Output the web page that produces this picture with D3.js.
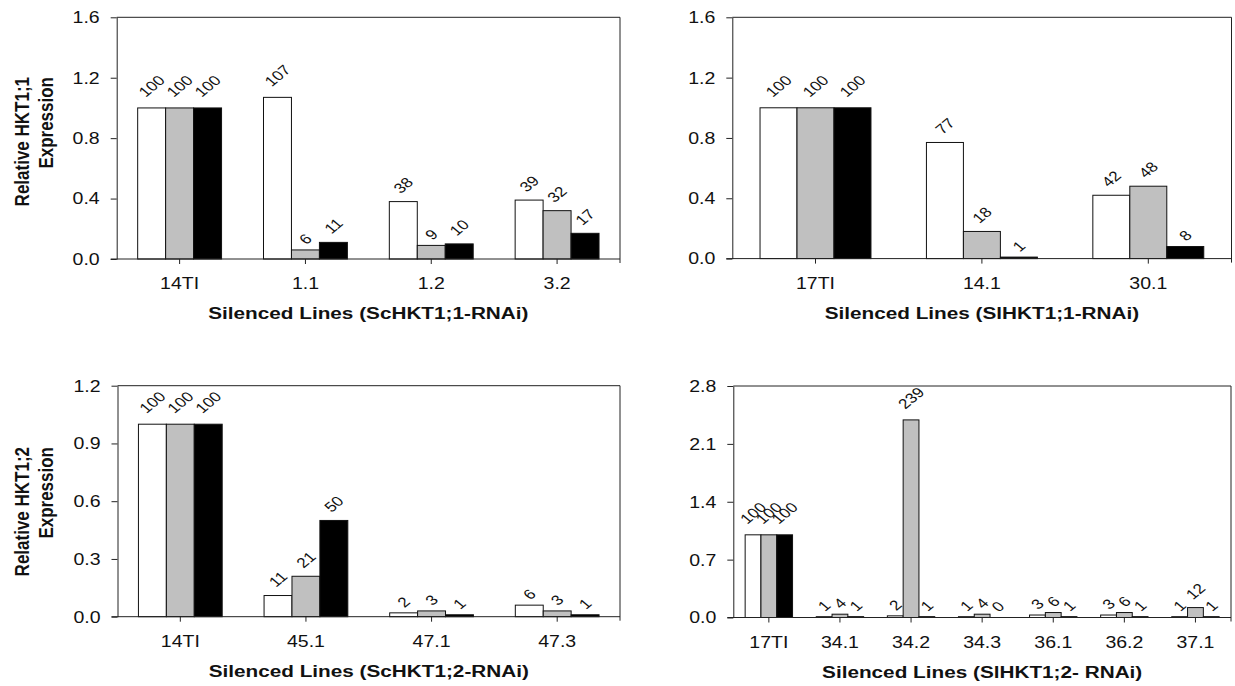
<!DOCTYPE html>
<html><head><meta charset="utf-8">
<script src="https://cdn.jsdelivr.net/npm/d3@7"></script>
<style>
html,body{margin:0;padding:0;background:#fff;}
svg{display:block;font-family:"Liberation Sans",Arial,sans-serif;}
</style></head>
<body><svg id="chart" width="1235" height="686"></svg>
<script>
// ---------- data (percent of control) ----------
const catsA = ["14TI","1.1","1.2","3.2"];
const whiteA = [100,107,38,39];
const grayA  = [100,6,9,32];
const blackA = [100,11,10,17];

const catsB = ["17TI","14.1","30.1"];
const whiteB = [100,77,42];
const grayB  = [100,18,48];
const blackB = [100,1,8];

const catsC = ["14TI","45.1","47.1","47.3"];
const whiteC = [100,11,2,6];
const grayC  = [100,21,3,3];
const blackC = [100,50,1,1];

const catsD = ["17TI","34.1","34.2","34.3","36.1","36.2","37.1"];
const whiteD = [100,1,2,1,3,3,1];
const grayD  = [100,4,239,4,6,6,12];
const blackD = [100,1,1,0,1,1,1];

const yTicksA = [0,0.4,0.8,1.2,1.6];
const yTicksC = [0,0.3,0.6,0.9,1.2];
const yTicksD = [0,0.7,1.4,2.1,2.8];

const xTitles = ["Silenced Lines (ScHKT1;1-RNAi)","Silenced Lines (SlHKT1;1-RNAi)",
                 "Silenced Lines (ScHKT1;2-RNAi)","Silenced Lines (SlHKT1;2- RNAi)"];
const yTitleTop = ["Relative HKT1;1","Expression"];
const yTitleBot = ["Relative HKT1;2","Expression"];

// ---------- layout ----------
const SX = 1.22;          // horizontal stretch of the original picture
const fills = ["#ffffff","#c0c0c0","#000000"];
const svg = d3.select("#chart");

const panels = [
  {cats:catsA, series:[whiteA,grayA,blackA], ticks:yTicksA, x0:116.7, x1:620, y0:17.3, y1:259, title:xTitles[0], ytitle:yTitleTop, ytop:77},
  {cats:catsB, series:[whiteB,grayB,blackB], ticks:yTicksA, x0:732.3, x1:1231.5, y0:17.3, y1:258.6, title:xTitles[1]},
  {cats:catsC, series:[whiteC,grayC,blackC], ticks:yTicksC, x0:117.5, x1:620, y0:385.7, y1:616.7, title:xTitles[2], ytitle:yTitleBot, ytop:447},
  {cats:catsD, series:[whiteD,grayD,blackD], ticks:yTicksD, x0:733.3, x1:1231, y0:386, y1:617.5, title:xTitles[3]}
];

panels.forEach(p => {
  const g = svg.append("g");
  const x = d3.scaleBand().domain(p.cats).range([p.x0,p.x1]).paddingInner(1/3).paddingOuter(1/6);
  const xs = d3.scaleBand().domain([0,1,2]).range([0,x.bandwidth()]).padding(0);
  const ymax = p.ticks[p.ticks.length-1];
  const y = d3.scaleLinear().domain([0,ymax]).range([p.y1,p.y0]);

  // frame (top + right)
  g.append("path").attr("d",`M${p.x0},${p.y0}H${p.x1}V${p.y1+4}`)
    .attr("fill","none").attr("stroke","#222").attr("stroke-width",1);

  // bars
  p.series.forEach((vals,si) => {
    g.append("g").selectAll("rect").data(p.cats.map((c,i)=>({c,v:vals[i]/100}))).join("rect")
      .attr("x",d=>x(d.c)+xs(si)).attr("width",xs.bandwidth())
      .attr("y",d=>y(d.v)).attr("height",d=>p.y1-y(d.v))
      .attr("fill",fills[si]).attr("stroke","#111").attr("stroke-width",1);
  });

  // value labels
  p.series.forEach((vals,si) => {
    g.append("g").selectAll("text").data(p.cats.map((c,i)=>({c,v:vals[i]}))).join("text")
      .attr("transform",d=>{
        const cx = x(d.c)+xs(si)+xs.bandwidth()/2;
        const L = String(d.v).length*0.556*14;
        const cy = y(d.v/100) - 5.5 - 0.7*L;
        return `translate(${cx},${cy}) scale(${SX},1) rotate(-45)`;
      })
      .attr("text-anchor","middle").attr("dominant-baseline","central")
      .attr("font-size",14).attr("fill","#111").text(d=>d.v);
  });

  // y axis
  const ya = g.append("g").attr("transform",`translate(${p.x0},0)`)
    .call(d3.axisLeft(y).tickValues(p.ticks).tickFormat(d3.format(".1f")).tickSize(6).tickSizeOuter(0).tickPadding(0));
  ya.select(".domain").attr("stroke","#222");
  ya.selectAll(".tick line").attr("stroke","#222");
  ya.selectAll(".tick text").attr("x",0).attr("dy",null).attr("dominant-baseline","central")
    .attr("transform",`translate(-17,0) scale(${SX},1)`)
    .attr("font-size",16).attr("fill","#111").attr("font-family",null);

  // x axis
  const xa = g.append("g").attr("transform",`translate(0,${p.y1})`)
    .call(d3.axisBottom(x).tickSize(5).tickSizeOuter(0).tickPadding(0));
  xa.select(".domain").attr("stroke","#222").attr("d",`M${p.x0-6},0H${p.x1}`);
  xa.selectAll(".tick line").attr("stroke","#222");
  xa.selectAll(".tick text").attr("y",0).attr("dy",null)
    .attr("transform",`translate(0,30) scale(${SX},1)`)
    .attr("font-size",16).attr("fill","#111").attr("font-family",null);

  // x title
  g.append("text").attr("transform",`translate(${(p.x0+p.x1)/2},${p.y1+60}) scale(${SX},1)`)
    .attr("text-anchor","middle").attr("font-size",17).attr("font-weight","bold").attr("fill","#111")
    .text(p.title);

  // y title (two lines, aligned at their top end)
  if (p.ytitle) {
    [29,53].forEach((bx,i)=>{
      g.append("text").attr("transform",`translate(${bx},${p.ytop}) scale(${SX},1) rotate(-90)`)
        .attr("text-anchor","end").attr("font-size",17).attr("font-weight","bold").attr("fill","#111")
        .text(p.ytitle[i]);
    });
  }
});
</script></body></html>
